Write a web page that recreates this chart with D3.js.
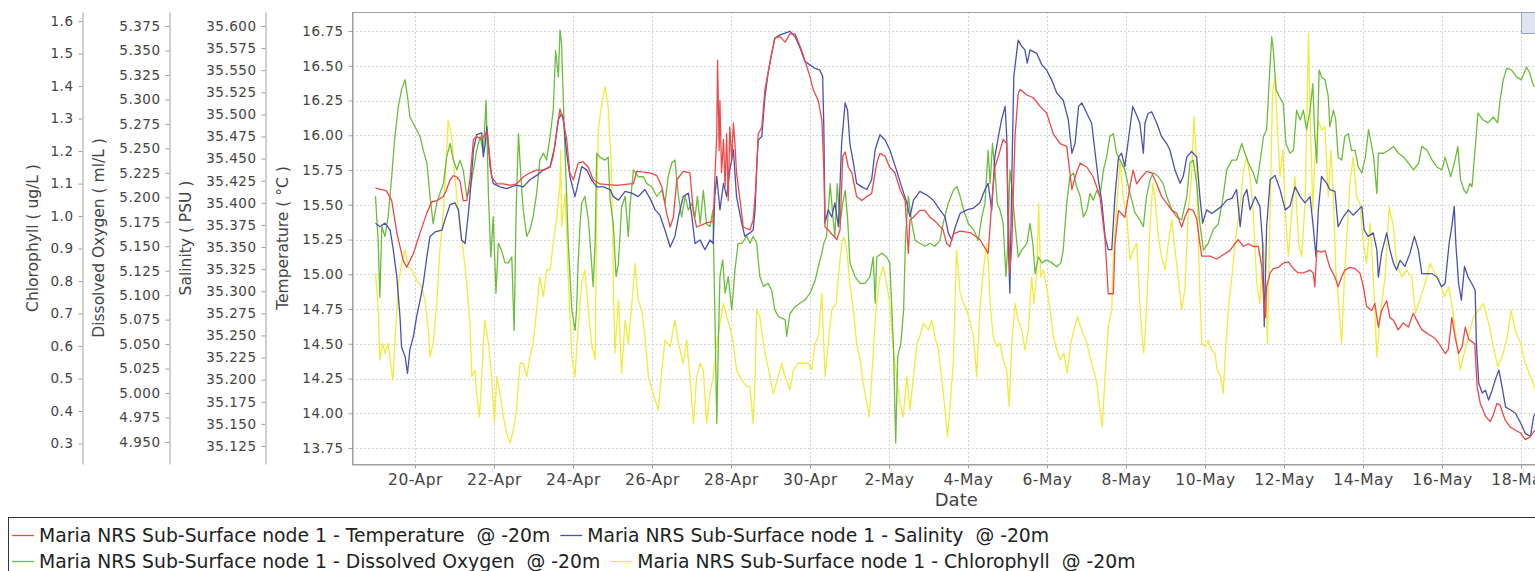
<!DOCTYPE html>
<html>
<head>
<meta charset="utf-8">
<script src="https://cdn.jsdelivr.net/npm/d3@7"></script>
<style>
body { margin: 0; background: #fff; }
svg { display: block; font-family: "DejaVu Sans", sans-serif; }
</style>
</head>
<body>
<svg width="1535" height="571"></svg>
<script>
// day offsets from 19-Apr 00:00, values in each series' own units
var tempData = [[0.00,15.62],[0.28,15.60],[0.41,15.53],[0.54,15.30],[0.70,15.10],[0.79,15.05],[0.96,15.15],[1.13,15.30],[1.30,15.44],[1.42,15.52],[1.55,15.53],[1.72,15.56],[1.80,15.61],[1.89,15.68],[1.97,15.71],[2.06,15.70],[2.14,15.67],[2.22,15.53],[2.31,15.53],[2.39,15.68],[2.48,15.97],[2.56,15.99],[2.69,15.97],[2.82,16.03],[2.86,15.94],[2.94,15.70],[3.07,15.65],[3.24,15.65],[3.41,15.64],[3.57,15.65],[3.74,15.70],[3.91,15.73],[4.08,15.75],[4.25,15.75],[4.42,15.77],[4.50,15.85],[4.59,16.04],[4.67,16.19],[4.75,16.11],[4.84,15.97],[4.92,15.73],[5.01,15.68],[5.13,15.80],[5.26,15.81],[5.39,15.77],[5.51,15.68],[5.68,15.65],[6.11,15.64],[6.44,15.65],[6.53,15.65],[6.61,15.74],[6.95,15.73],[7.12,15.71],[7.25,15.63],[7.37,15.44],[7.46,15.34],[7.54,15.41],[7.63,15.68],[7.79,15.74],[7.96,15.73],[8.05,15.44],[8.13,15.34],[8.38,15.37],[8.55,15.38],[8.59,15.68],[8.64,16.01],[8.66,16.54],[8.70,15.89],[8.72,16.25],[8.76,15.73],[8.81,15.97],[8.85,15.63],[8.89,16.01],[8.93,15.53],[8.97,16.06],[9.02,15.82],[9.06,16.09],[9.10,15.94],[9.14,15.73],[9.23,15.53],[9.31,15.34],[9.48,15.32],[9.56,15.39],[9.63,15.63],[9.69,16.01],[9.78,16.06],[9.86,16.33],[9.94,16.45],[10.03,16.59],[10.11,16.70],[10.24,16.71],[10.37,16.67],[10.49,16.73],[10.62,16.73],[10.75,16.64],[10.87,16.54],[11.00,16.42],[11.08,16.33],[11.21,16.25],[11.30,16.11],[11.35,15.77],[11.38,15.34],[11.46,15.32],[11.55,15.29],[11.68,15.25],[11.76,15.32],[11.83,15.85],[11.89,15.88],[11.97,15.77],[12.06,15.73],[12.18,15.56],[12.31,15.53],[12.44,15.56],[12.56,15.58],[12.69,15.80],[12.77,15.87],[12.90,15.85],[13.02,15.77],[13.15,15.73],[13.28,15.61],[13.41,15.53],[13.49,15.15],[13.53,15.39],[13.62,15.41],[13.78,15.46],[13.91,15.46],[14.04,15.41],[14.21,15.37],[14.37,15.32],[14.46,15.22],[14.54,15.20],[14.63,15.29],[14.80,15.31],[15.06,15.30],[15.30,15.25],[15.51,15.15],[15.60,15.51],[15.68,15.77],[15.77,15.85],[15.89,15.97],[15.98,15.94],[16.02,15.46],[16.06,15.01],[16.11,15.22],[16.19,15.99],[16.27,16.30],[16.32,16.33],[16.49,16.29],[16.65,16.27],[16.82,16.21],[16.99,16.16],[17.16,16.01],[17.33,15.94],[17.50,15.92],[17.63,15.61],[17.71,15.70],[17.84,15.80],[18.01,15.77],[18.17,15.70],[18.34,15.56],[18.47,15.25],[18.55,14.86],[18.68,14.86],[18.72,15.22],[18.81,15.46],[18.97,15.41],[19.10,15.63],[19.18,15.75],[19.27,15.65],[19.40,15.70],[19.52,15.74],[19.65,15.73],[19.78,15.65],[19.90,15.56],[20.03,15.51],[20.16,15.46],[20.28,15.44],[20.41,15.34],[20.49,15.41],[20.58,15.47],[20.70,15.46],[20.79,15.40],[20.87,15.22],[20.92,15.13],[21.13,15.13],[21.30,15.11],[21.46,15.14],[21.63,15.17],[21.76,15.22],[21.84,15.25],[21.97,15.20],[22.10,15.22],[22.22,15.20],[22.35,15.20],[22.44,15.05],[22.48,14.84],[22.53,14.69],[22.56,14.91],[22.65,15.01],[22.73,15.04],[22.86,15.05],[22.98,15.08],[23.11,15.09],[23.24,15.04],[23.36,15.01],[23.49,15.01],[23.66,15.03],[23.74,15.01],[23.78,14.91],[23.83,15.17],[23.95,15.16],[24.04,15.17],[24.16,15.05],[24.29,14.98],[24.37,14.91],[24.46,14.98],[24.54,15.03],[24.67,15.05],[24.80,15.04],[24.92,15.01],[25.01,14.91],[25.09,14.77],[25.22,14.74],[25.30,14.79],[25.39,14.62],[25.47,14.74],[25.60,14.81],[25.68,14.69],[25.77,14.67],[25.89,14.60],[26.02,14.65],[26.15,14.62],[26.27,14.72],[26.36,14.67],[26.49,14.60],[26.65,14.57],[26.82,14.54],[26.95,14.49],[27.08,14.43],[27.16,14.46],[27.25,14.69],[27.33,14.55],[27.42,14.43],[27.51,14.48],[27.59,14.62],[27.68,14.53],[27.83,14.50],[27.89,14.19],[27.97,14.07],[28.10,13.98],[28.22,13.94],[28.30,13.99],[28.39,14.07],[28.47,14.06],[28.60,13.95],[28.73,13.90],[28.85,13.88],[28.98,13.86],[29.11,13.81],[29.23,13.83],[29.36,13.88]];

var salData = [[0.00,35.377],[0.11,35.373],[0.24,35.377],[0.37,35.369],[0.45,35.347],[0.54,35.316],[0.62,35.271],[0.66,35.237],[0.75,35.226],[0.81,35.207],[0.87,35.234],[0.96,35.249],[1.04,35.271],[1.13,35.290],[1.21,35.309],[1.30,35.339],[1.38,35.362],[1.51,35.367],[1.68,35.369],[1.76,35.381],[1.89,35.398],[2.01,35.400],[2.10,35.392],[2.18,35.358],[2.27,35.354],[2.35,35.388],[2.39,35.407],[2.48,35.460],[2.56,35.477],[2.69,35.479],[2.73,35.452],[2.77,35.464],[2.82,35.486],[2.90,35.441],[2.98,35.422],[3.15,35.418],[3.32,35.416],[3.57,35.420],[3.74,35.418],[3.91,35.426],[4.08,35.431],[4.25,35.437],[4.42,35.441],[4.54,35.464],[4.63,35.494],[4.71,35.501],[4.75,35.497],[4.84,35.456],[4.92,35.430],[5.05,35.407],[5.13,35.422],[5.22,35.441],[5.35,35.437],[5.47,35.426],[5.60,35.418],[5.77,35.418],[5.94,35.415],[6.02,35.407],[6.15,35.403],[6.32,35.413],[6.49,35.411],[6.65,35.407],[6.82,35.415],[6.95,35.405],[7.08,35.392],[7.20,35.386],[7.33,35.369],[7.46,35.350],[7.58,35.362],[7.67,35.384],[7.79,35.407],[7.92,35.411],[8.01,35.384],[8.09,35.354],[8.22,35.358],[8.34,35.347],[8.47,35.358],[8.55,35.354],[8.59,35.407],[8.64,35.430],[8.72,35.392],[8.81,35.422],[8.89,35.407],[8.97,35.437],[9.06,35.460],[9.14,35.407],[9.27,35.377],[9.35,35.362],[9.48,35.366],[9.56,35.369],[9.61,35.392],[9.65,35.441],[9.69,35.471],[9.78,35.475],[9.86,35.520],[9.94,35.547],[10.03,35.569],[10.11,35.586],[10.24,35.590],[10.37,35.592],[10.49,35.594],[10.62,35.588],[10.75,35.575],[10.87,35.560],[11.00,35.556],[11.13,35.552],[11.25,35.550],[11.32,35.543],[11.35,35.486],[11.38,35.377],[11.46,35.392],[11.55,35.384],[11.63,35.400],[11.72,35.373],[11.80,35.467],[11.89,35.513],[11.95,35.505],[12.01,35.467],[12.10,35.445],[12.18,35.422],[12.31,35.418],[12.44,35.415],[12.56,35.426],[12.65,35.460],[12.77,35.477],[12.90,35.471],[13.02,35.460],[13.19,35.437],[13.32,35.418],[13.45,35.400],[13.53,35.384],[13.62,35.403],[13.78,35.413],[13.95,35.409],[14.12,35.403],[14.29,35.392],[14.42,35.384],[14.50,35.366],[14.59,35.358],[14.68,35.373],[14.80,35.388],[14.97,35.392],[15.14,35.394],[15.30,35.400],[15.43,35.415],[15.51,35.422],[15.60,35.392],[15.68,35.452],[15.77,35.475],[15.85,35.494],[15.94,35.509],[15.98,35.475],[16.02,35.354],[16.06,35.298],[16.11,35.430],[16.16,35.543],[16.27,35.584],[16.36,35.577],[16.44,35.573],[16.50,35.558],[16.57,35.573],[16.74,35.569],[16.87,35.556],[16.99,35.550],[17.12,35.539],[17.25,35.524],[17.41,35.516],[17.54,35.494],[17.63,35.456],[17.71,35.467],[17.80,35.509],[17.88,35.513],[18.01,35.501],[18.13,35.490],[18.22,35.456],[18.30,35.426],[18.39,35.400],[18.47,35.362],[18.55,35.347],[18.64,35.347],[18.72,35.407],[18.81,35.452],[18.89,35.456],[18.97,35.441],[19.06,35.471],[19.17,35.509],[19.27,35.499],[19.35,35.490],[19.44,35.456],[19.48,35.490],[19.56,35.501],[19.65,35.503],[19.78,35.490],[19.90,35.475],[20.03,35.467],[20.11,35.460],[20.24,35.437],[20.37,35.422],[20.45,35.430],[20.54,35.452],[20.66,35.458],[20.79,35.452],[20.87,35.407],[20.94,35.377],[21.04,35.392],[21.17,35.388],[21.30,35.392],[21.42,35.396],[21.55,35.403],[21.68,35.405],[21.80,35.415],[21.89,35.373],[21.97,35.407],[22.06,35.415],[22.14,35.392],[22.27,35.407],[22.39,35.396],[22.46,35.354],[22.50,35.260],[22.56,35.373],[22.65,35.426],[22.77,35.431],[22.90,35.415],[23.03,35.392],[23.15,35.396],[23.28,35.418],[23.41,35.407],[23.53,35.400],[23.66,35.407],[23.74,35.373],[23.81,35.339],[23.87,35.392],[23.95,35.430],[24.08,35.422],[24.16,35.415],[24.29,35.413],[24.37,35.373],[24.50,35.384],[24.63,35.392],[24.75,35.386],[24.88,35.392],[24.97,35.396],[25.03,35.369],[25.13,35.362],[25.26,35.366],[25.35,35.347],[25.39,35.316],[25.47,35.343],[25.60,35.366],[25.68,35.347],[25.77,35.332],[25.85,35.324],[25.94,35.335],[26.06,35.328],[26.19,35.343],[26.30,35.362],[26.40,35.347],[26.49,35.320],[26.61,35.320],[26.74,35.320],[26.87,35.316],[26.99,35.305],[27.08,35.309],[27.18,35.354],[27.26,35.377],[27.31,35.396],[27.35,35.354],[27.42,35.309],[27.49,35.290],[27.57,35.328],[27.66,35.316],[27.75,35.309],[27.84,35.301],[27.87,35.241],[27.93,35.196],[28.02,35.185],[28.10,35.188],[28.18,35.177],[28.27,35.188],[28.35,35.200],[28.44,35.211],[28.52,35.192],[28.61,35.169],[28.73,35.166],[28.86,35.162],[28.99,35.151],[29.11,35.139],[29.24,35.136],[29.32,35.158],[29.37,35.162]];

var doData = [[0.00,5.201],[0.03,5.180],[0.07,5.153],[0.11,5.098],[0.16,5.170],[0.24,5.160],[0.32,5.180],[0.41,5.221],[0.49,5.262],[0.58,5.293],[0.66,5.310],[0.75,5.320],[0.81,5.303],[0.87,5.282],[1.00,5.272],[1.13,5.262],[1.21,5.248],[1.30,5.235],[1.38,5.201],[1.46,5.173],[1.55,5.194],[1.63,5.204],[1.72,5.214],[1.80,5.241],[1.89,5.255],[1.97,5.238],[2.06,5.228],[2.14,5.238],[2.22,5.228],[2.31,5.201],[2.39,5.207],[2.48,5.228],[2.56,5.248],[2.65,5.262],[2.73,5.245],[2.80,5.299],[2.86,5.201],[2.92,5.139],[2.98,5.180],[3.05,5.102],[3.11,5.153],[3.19,5.146],[3.28,5.133],[3.36,5.133],[3.45,5.139],[3.51,5.064],[3.56,5.187],[3.62,5.265],[3.68,5.221],[3.74,5.187],[3.83,5.160],[3.91,5.167],[3.99,5.180],[4.08,5.204],[4.16,5.238],[4.25,5.245],[4.33,5.238],[4.42,5.262],[4.50,5.289],[4.56,5.350],[4.63,5.323],[4.67,5.371],[4.71,5.357],[4.75,5.306],[4.79,5.255],[4.84,5.201],[4.88,5.153],[4.97,5.085],[5.05,5.064],[5.09,5.085],[5.13,5.133],[5.18,5.173],[5.22,5.194],[5.30,5.201],[5.39,5.177],[5.47,5.133],[5.51,5.109],[5.56,5.153],[5.60,5.245],[5.68,5.241],[5.81,5.238],[5.89,5.241],[5.94,5.197],[6.02,5.173],[6.09,5.119],[6.15,5.133],[6.23,5.190],[6.32,5.201],[6.40,5.160],[6.44,5.190],[6.53,5.228],[6.65,5.221],[6.78,5.221],[6.87,5.214],[6.99,5.211],[7.12,5.201],[7.25,5.207],[7.33,5.194],[7.41,5.221],[7.50,5.235],[7.58,5.238],[7.67,5.201],[7.75,5.180],[7.84,5.201],[7.92,5.187],[8.01,5.194],[8.09,5.180],[8.15,5.201],[8.22,5.173],[8.30,5.207],[8.38,5.173],[8.47,5.170],[8.54,5.187],[8.59,5.085],[8.64,4.969],[8.68,5.051],[8.72,5.119],[8.79,5.136],[8.85,5.102],[8.93,5.119],[9.02,5.085],[9.10,5.126],[9.18,5.153],[9.27,5.153],[9.40,5.160],[9.48,5.153],[9.56,5.160],[9.65,5.153],[9.73,5.119],[9.82,5.109],[9.94,5.112],[10.03,5.105],[10.11,5.085],[10.20,5.078],[10.37,5.075],[10.41,5.058],[10.49,5.081],[10.62,5.088],[10.75,5.092],[10.87,5.095],[11.00,5.102],[11.13,5.115],[11.21,5.129],[11.30,5.143],[11.35,5.153],[11.42,5.160],[11.51,5.214],[11.58,5.180],[11.63,5.160],[11.69,5.214],[11.76,5.173],[11.83,5.194],[11.89,5.207],[11.95,5.180],[12.01,5.133],[12.14,5.119],[12.27,5.112],[12.39,5.112],[12.52,5.119],[12.60,5.139],[12.65,5.092],[12.69,5.139],[12.82,5.143],[12.94,5.139],[13.02,5.133],[13.11,5.051],[13.17,4.949],[13.22,5.037],[13.30,5.051],[13.37,5.085],[13.42,5.160],[13.49,5.201],[13.58,5.173],[13.66,5.156],[13.78,5.153],[13.91,5.150],[14.04,5.153],[14.16,5.150],[14.29,5.156],[14.37,5.173],[14.50,5.194],[14.63,5.207],[14.72,5.211],[14.80,5.201],[14.89,5.187],[15.01,5.173],[15.14,5.167],[15.26,5.156],[15.35,5.180],[15.43,5.194],[15.51,5.248],[15.56,5.214],[15.62,5.255],[15.68,5.228],[15.74,5.194],[15.81,5.187],[15.89,5.173],[15.96,5.119],[16.01,5.153],[16.06,5.228],[16.11,5.211],[16.19,5.173],[16.27,5.139],[16.36,5.146],[16.49,5.153],[16.57,5.173],[16.64,5.153],[16.70,5.122],[16.78,5.139],[16.87,5.133],[16.99,5.136],[17.12,5.133],[17.25,5.129],[17.35,5.133],[17.41,5.146],[17.50,5.194],[17.58,5.221],[17.67,5.225],[17.75,5.211],[17.84,5.201],[17.92,5.180],[18.01,5.187],[18.09,5.204],[18.17,5.197],[18.26,5.207],[18.34,5.201],[18.43,5.228],[18.51,5.241],[18.59,5.262],[18.68,5.265],[18.76,5.245],[18.85,5.238],[18.97,5.228],[19.10,5.204],[19.23,5.184],[19.35,5.177],[19.44,5.170],[19.52,5.201],[19.61,5.218],[19.69,5.225],[19.82,5.221],[19.94,5.214],[20.03,5.201],[20.16,5.187],[20.28,5.180],[20.41,5.177],[20.54,5.201],[20.62,5.235],[20.70,5.238],[20.79,5.214],[20.87,5.173],[20.96,5.146],[21.08,5.153],[21.21,5.167],[21.34,5.173],[21.46,5.201],[21.55,5.228],[21.68,5.238],[21.80,5.238],[21.93,5.255],[22.01,5.245],[22.10,5.235],[22.22,5.225],[22.31,5.214],[22.39,5.235],[22.48,5.262],[22.56,5.269],[22.63,5.323],[22.69,5.364],[22.73,5.350],[22.80,5.310],[22.88,5.303],[22.98,5.296],[23.05,5.255],[23.15,5.245],[23.24,5.248],[23.32,5.289],[23.41,5.279],[23.49,5.289],[23.57,5.269],[23.66,5.289],[23.73,5.316],[23.78,5.262],[23.83,5.235],[23.89,5.330],[23.95,5.323],[24.04,5.320],[24.12,5.303],[24.16,5.272],[24.25,5.289],[24.31,5.279],[24.37,5.241],[24.46,5.238],[24.54,5.262],[24.63,5.265],[24.71,5.248],[24.80,5.248],[24.88,5.231],[24.97,5.225],[25.06,5.241],[25.14,5.269],[25.19,5.259],[25.27,5.241],[25.35,5.204],[25.39,5.245],[25.52,5.245],[25.65,5.248],[25.77,5.252],[25.90,5.245],[26.03,5.241],[26.15,5.235],[26.28,5.228],[26.41,5.235],[26.49,5.252],[26.62,5.248],[26.75,5.238],[26.87,5.231],[27.00,5.228],[27.08,5.241],[27.15,5.231],[27.22,5.221],[27.33,5.238],[27.40,5.252],[27.47,5.218],[27.56,5.207],[27.62,5.204],[27.71,5.214],[27.76,5.211],[27.85,5.255],[27.91,5.286],[28.04,5.279],[28.17,5.276],[28.30,5.282],[28.41,5.276],[28.47,5.299],[28.55,5.320],[28.64,5.332],[28.76,5.330],[28.89,5.323],[29.01,5.320],[29.14,5.333],[29.22,5.327],[29.30,5.316],[29.34,5.313]];

var chlData = [[0.00,0.824],[0.03,0.782],[0.07,0.711],[0.11,0.557],[0.18,0.608],[0.24,0.578],[0.32,0.608],[0.37,0.557],[0.44,0.495],[0.49,0.608],[0.58,0.793],[0.66,0.854],[0.75,0.895],[0.83,0.844],[0.92,0.834],[1.04,0.803],[1.17,0.782],[1.25,0.742],[1.34,0.649],[1.38,0.567],[1.46,0.608],[1.55,0.731],[1.63,0.895],[1.72,1.018],[1.78,1.142],[1.84,1.295],[1.93,1.244],[2.01,1.121],[2.06,1.059],[2.14,0.957],[2.22,0.895],[2.31,0.793],[2.39,0.670],[2.44,0.506],[2.52,0.526],[2.56,0.454],[2.63,0.382],[2.69,0.506],[2.73,0.608],[2.77,0.680],[2.86,0.608],[2.94,0.506],[3.01,0.362],[3.07,0.506],[3.15,0.454],[3.24,0.382],[3.32,0.331],[3.41,0.301],[3.49,0.342],[3.57,0.403],[3.66,0.547],[3.74,0.547],[3.83,0.506],[3.91,0.567],[3.99,0.608],[4.08,0.711],[4.16,0.813],[4.25,0.752],[4.33,0.834],[4.42,0.834],[4.50,0.916],[4.59,0.998],[4.67,1.101],[4.69,1.203],[4.71,0.967],[4.80,1.070],[4.88,0.813],[4.97,0.567],[5.05,0.506],[5.13,0.659],[5.22,0.793],[5.30,0.834],[5.39,0.711],[5.47,0.608],[5.56,0.557],[5.60,1.018],[5.64,1.265],[5.73,1.347],[5.81,1.398],[5.89,1.336],[5.98,1.121],[6.02,0.813],[6.06,0.578],[6.15,0.742],[6.23,0.516],[6.32,0.680],[6.40,0.608],[6.49,0.731],[6.57,0.854],[6.65,0.742],[6.74,0.711],[6.82,0.629],[6.91,0.506],[7.03,0.454],[7.16,0.403],[7.25,0.526],[7.33,0.618],[7.46,0.598],[7.58,0.680],[7.67,0.608],[7.79,0.547],[7.88,0.618],[7.96,0.506],[8.05,0.362],[8.13,0.506],[8.22,0.547],[8.30,0.526],[8.38,0.362],[8.47,0.454],[8.55,0.506],[8.64,0.608],[8.72,0.670],[8.81,0.731],[8.89,0.690],[8.97,0.659],[9.06,0.608],[9.14,0.526],[9.27,0.495],[9.40,0.475],[9.48,0.475],[9.56,0.362],[9.61,0.506],[9.65,0.711],[9.73,0.690],[9.82,0.608],[9.90,0.557],[9.99,0.506],[10.07,0.454],[10.20,0.506],[10.28,0.547],[10.37,0.506],[10.49,0.465],[10.58,0.526],[10.70,0.547],[10.83,0.547],[10.96,0.547],[11.04,0.526],[11.13,0.608],[11.21,0.629],[11.30,0.762],[11.38,0.506],[11.46,0.608],[11.55,0.711],[11.66,0.731],[11.72,0.813],[11.80,0.916],[11.86,0.936],[11.93,0.895],[12.01,0.793],[12.10,0.711],[12.18,0.608],[12.27,0.557],[12.35,0.485],[12.44,0.424],[12.50,0.382],[12.59,0.557],[12.67,0.711],[12.77,0.813],[12.85,0.844],[12.94,0.793],[13.02,0.731],[13.11,0.588],[13.19,0.506],[13.28,0.424],[13.36,0.382],[13.45,0.506],[13.53,0.403],[13.62,0.506],[13.71,0.608],[13.78,0.629],[13.87,0.670],[14.00,0.649],[14.08,0.680],[14.16,0.629],[14.25,0.588],[14.36,0.475],[14.42,0.403],[14.48,0.321],[14.54,0.403],[14.63,0.557],[14.71,0.895],[14.80,0.762],[14.89,0.731],[14.97,0.711],[15.06,0.670],[15.14,0.629],[15.22,0.506],[15.30,0.711],[15.39,0.834],[15.47,0.916],[15.51,0.865],[15.56,0.731],[15.64,0.629],[15.73,0.598],[15.81,0.608],[15.89,0.557],[15.98,0.526],[16.04,0.413],[16.11,0.608],[16.19,0.731],[16.27,0.680],[16.36,0.649],[16.44,0.588],[16.53,0.649],[16.61,0.813],[16.67,0.731],[16.74,0.824],[16.79,1.039],[16.84,0.813],[16.91,0.834],[16.99,0.782],[17.08,0.711],[17.16,0.629],[17.25,0.588],[17.33,0.557],[17.43,0.578],[17.51,0.516],[17.60,0.608],[17.68,0.649],[17.77,0.690],[17.88,0.649],[18.01,0.608],[18.13,0.547],[18.26,0.485],[18.34,0.403],[18.40,0.352],[18.47,0.506],[18.55,0.659],[18.64,0.711],[18.68,0.885],[18.76,1.018],[18.85,1.172],[18.93,1.059],[19.02,0.998],[19.10,0.865],[19.18,0.895],[19.27,0.916],[19.35,0.731],[19.42,0.608],[19.45,0.578],[19.52,0.711],[19.61,0.978],[19.68,1.101],[19.73,1.059],[19.82,0.936],[19.90,0.875],[19.99,0.834],[20.07,0.916],[20.16,0.988],[20.24,0.895],[20.32,0.813],[20.41,0.711],[20.49,0.772],[20.58,1.018],[20.66,1.121],[20.72,1.306],[20.77,1.203],[20.83,0.936],[20.87,0.762],[20.92,0.608],[21.00,0.598],[21.08,0.618],[21.17,0.588],[21.25,0.578],[21.31,0.526],[21.40,0.506],[21.46,0.454],[21.53,0.608],[21.59,0.711],[21.68,0.813],[21.76,0.916],[21.85,0.998],[21.91,1.059],[21.97,1.142],[22.06,1.182],[22.14,1.121],[22.22,1.018],[22.31,0.793],[22.39,0.731],[22.48,0.916],[22.53,0.813],[22.58,0.608],[22.65,1.018],[22.71,1.378],[22.77,1.429],[22.83,1.285],[22.90,1.121],[22.97,1.203],[23.03,1.018],[23.11,0.875],[23.20,1.018],[23.28,1.121],[23.37,0.916],[23.45,0.875],[23.54,1.059],[23.62,1.562],[23.66,1.326],[23.73,1.018],[23.78,1.172],[23.87,1.295],[23.95,1.265],[24.04,1.275],[24.12,1.059],[24.19,1.203],[24.25,1.059],[24.31,0.834],[24.37,0.752],[24.46,0.608],[24.53,0.813],[24.61,0.978],[24.67,1.101],[24.75,1.182],[24.84,1.059],[24.92,1.039],[25.01,0.916],[25.09,0.854],[25.18,0.978],[25.26,0.813],[25.35,0.567],[25.43,0.690],[25.56,0.813],[25.66,1.029],[25.77,0.967],[25.85,0.854],[25.98,0.813],[26.11,0.834],[26.23,0.813],[26.33,0.701],[26.44,0.742],[26.57,0.793],[26.70,0.854],[26.82,0.824],[26.95,0.793],[27.06,0.752],[27.17,0.782],[27.27,0.711],[27.38,0.608],[27.46,0.526],[27.54,0.567],[27.67,0.629],[27.80,0.690],[27.93,0.711],[28.05,0.731],[28.18,0.670],[28.30,0.598],[28.41,0.536],[28.52,0.567],[28.64,0.618],[28.75,0.711],[28.85,0.649],[28.99,0.608],[29.11,0.547],[29.24,0.506],[29.37,0.465]];

var dateTicks = ["20-Apr","22-Apr","24-Apr","26-Apr","28-Apr","30-Apr","2-May","4-May","6-May","8-May","10-May","12-May","14-May","16-May","18-May"];
var tempTicks = [13.75,14.00,14.25,14.50,14.75,15.00,15.25,15.50,15.75,16.00,16.25,16.50,16.75];
var salTicks = [35.125,35.150,35.175,35.200,35.225,35.250,35.275,35.300,35.325,35.350,35.375,35.400,35.425,35.450,35.475,35.500,35.525,35.550,35.575,35.600];
var doTicks = [4.950,4.975,5.000,5.025,5.050,5.075,5.100,5.125,5.150,5.175,5.200,5.225,5.250,5.275,5.300,5.325,5.350,5.375];
var chlTicks = [0.3,0.4,0.5,0.6,0.7,0.8,0.9,1.0,1.1,1.2,1.3,1.4,1.5,1.6];

var seriesNames = ["Maria NRS Sub-Surface node 1 - Temperature  @ -20m",
	"Maria NRS Sub-Surface node 1 - Salinity  @ -20m",
	"Maria NRS Sub-Surface node 1 - Dissolved Oxygen  @ -20m",
	"Maria NRS Sub-Surface node 1 - Chlorophyll  @ -20m"];
var seriesColors = ["#f04848", "#4a52ad", "#6cbd3a", "#f0ec3c"];

var startDate = new Date(2012, 3, 19);
function toDate(t){ return new Date(startDate.getTime() + t*864e5); }
var parseTick = d3.timeParse("%d-%b-%Y");

var mySvg = d3.select("svg");
var pTop = 12, pBottom = 464, pLeft = 352, pRight = 1560.5;

var x = d3.scaleTime().domain([toDate(-0.595), toDate(30)]).range([pLeft, pRight]);
var yTemp = d3.scaleLinear().domain([13.635, 16.887]).range([pBottom, pTop]);
var ySal = d3.scaleLinear().domain([35.1046, 35.6158]).range([pBottom, pTop]);
var yDO = d3.scaleLinear().domain([4.9275, 5.3893]).range([pBottom, pTop]);
var yChl = d3.scaleLinear().domain([0.237, 1.628]).range([pBottom, pTop]);

var tickDates = dateTicks.map(d => parseTick(d + "-2012"));

mySvg.append("defs").append("clipPath").attr("id", "plotClip")
	.append("rect").attr("x", pLeft).attr("y", pTop).attr("width", pRight-pLeft).attr("height", pBottom-pTop);

// grid
var grid = mySvg.append("g");
grid.selectAll(".hg").data(tempTicks).enter().append("line")
	.attr("x1", pLeft).attr("x2", pRight)
	.attr("y1", d => Math.round(yTemp(d))+0.5).attr("y2", d => Math.round(yTemp(d))+0.5)
	.style("stroke", "#d4d4d4").style("stroke-dasharray", "2,2");
grid.selectAll(".vg").data(tickDates).enter().append("line")
	.attr("x1", d => Math.round(x(d))+0.5).attr("x2", d => Math.round(x(d))+0.5)
	.attr("y1", pTop).attr("y2", pBottom)
	.style("stroke", "#d4d4d4").style("stroke-dasharray", "2,2");

// lines, chlorophyll first so temperature ends on top
var plot = mySvg.append("g").attr("clip-path", "url(#plotClip)");
var sets = [
	{data: chlData, y: yChl, color: seriesColors[3]},
	{data: doData, y: yDO, color: seriesColors[2]},
	{data: salData, y: ySal, color: seriesColors[1]},
	{data: tempData, y: yTemp, color: seriesColors[0]}
];
sets.forEach(function(s){
	var line = d3.line().x(d => x(toDate(d[0]))).y(d => s.y(d[1]));
	plot.append("path").datum(s.data)
		.attr("d", line)
		.style("fill", "none")
		.style("stroke", s.color)
		.style("stroke-width", 1.3)
		.style("stroke-linejoin", "round");
});

// plot frame
mySvg.append("rect").attr("x", pLeft+0.5).attr("y", pTop+0.5)
	.attr("width", pRight-pLeft).attr("height", pBottom-pTop)
	.style("fill", "none").style("stroke", "#a0a0a0");

mySvg.append("rect").attr("x", 1521.5).attr("y", pTop+0.5).attr("width", 22).attr("height", 21)
	.style("fill", "#dfe5f1").style("stroke", "#9aa4bd");

// axes
function styleAxis(g, size){
	g.select(".domain").style("stroke", "#a0a0a0");
	g.selectAll(".tick line").style("stroke", "#a0a0a0");
	g.selectAll(".tick text").style("fill", "#444").style("font-size", size)
		.style("letter-spacing", "0.5px")
		.style("font-family", "DejaVu Sans, sans-serif");
}

var axes = [
	{scale: yTemp, at: 352, ticks: tempTicks, fmt: ".2f", title: "Temperature ( °C )", tx: 283},
	{scale: ySal, at: 265, ticks: salTicks, fmt: ".3f", title: "Salinity ( PSU )", tx: 186},
	{scale: yDO, at: 169, ticks: doTicks, fmt: ".3f", title: "Dissolved Oxygen ( ml/L )", tx: 99},
	{scale: yChl, at: 82, ticks: chlTicks, fmt: ".1f", title: "Chlorophyll ( ug/L )", tx: 33}
];
axes.forEach(function(a){
	var g = mySvg.append("g").attr("transform", "translate(" + (a.at+0.5) + ",0)")
		.call(d3.axisLeft(a.scale).tickValues(a.ticks).tickFormat(d3.format(a.fmt))
			.tickSize(4).tickSizeOuter(0).tickPadding(5));
	styleAxis(g, "13.5px");
	mySvg.append("text")
		.attr("transform", "translate(" + a.tx + "," + ((pTop+pBottom)/2) + ") rotate(-90)")
		.attr("text-anchor", "middle").attr("dominant-baseline", "central")
		.style("font-size", "15.5px").style("fill", "#444")
		.text(a.title);
});

var xg = mySvg.append("g").attr("transform", "translate(0," + (pBottom+0.5) + ")")
	.call(d3.axisBottom(x).tickValues(tickDates).tickFormat(d3.timeFormat("%-d-%b"))
		.tickSize(4).tickSizeOuter(0).tickPadding(5));
styleAxis(xg, "15.5px");

mySvg.append("text").attr("x", (pLeft+pRight)/2).attr("y", 506)
	.attr("text-anchor", "middle").style("font-size", "18px").style("fill", "#444")
	.text("Date");

// legend
mySvg.append("rect").attr("x", 8.5).attr("y", 517.5).attr("width", 1600).attr("height", 70)
	.style("fill", "#fff").style("stroke", "#333");

var legend = mySvg.append("g").style("font-size", "18.8px").style("fill", "#222");
var rows = [[0, 1], [2, 3]];
rows.forEach(function(r, ri){
	var yy = 535 + ri*26, xx = 12;
	r.forEach(function(i){
		legend.append("line").attr("x1", xx).attr("x2", xx+22).attr("y1", yy+0.5).attr("y2", yy+0.5)
			.style("stroke", seriesColors[i]).style("stroke-width", 1.3);
		var t = legend.append("text").attr("x", xx+27).attr("y", yy)
			.attr("dominant-baseline", "central")
			.text(seriesNames[i].replace(/  /g, " \u00a0"));
		xx = xx + 27 + t.node().getComputedTextLength() + 10;
	});
});
</script>
</body>
</html>
